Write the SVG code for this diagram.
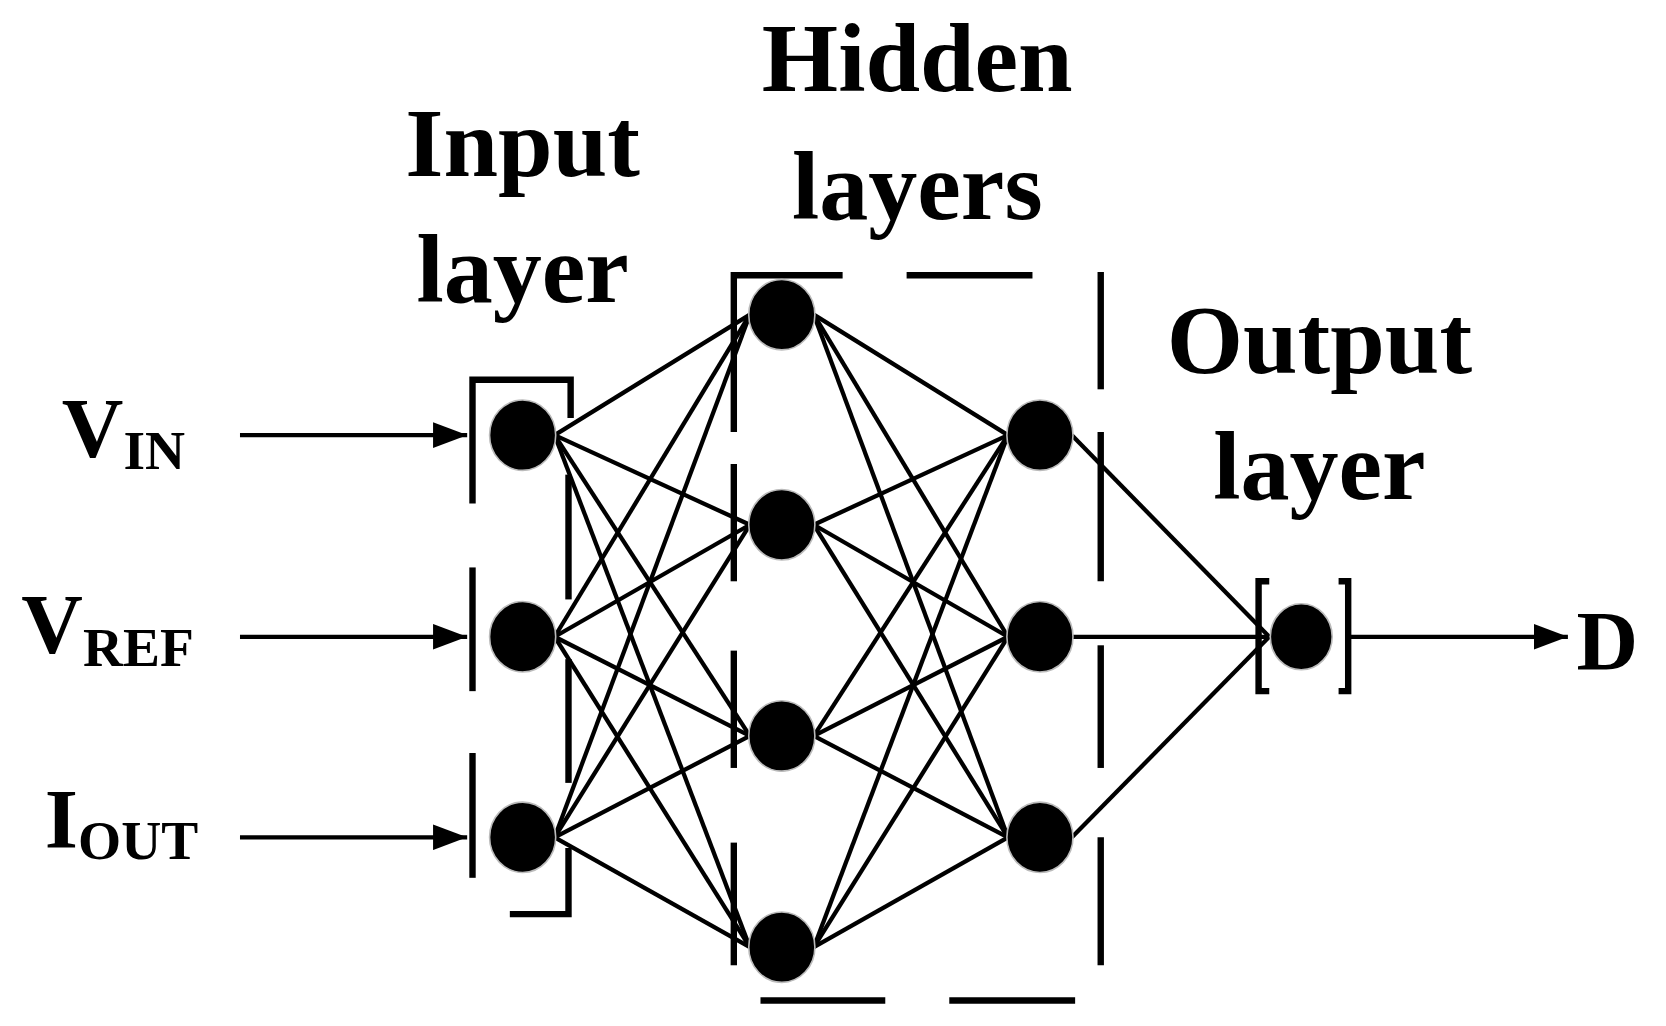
<svg xmlns="http://www.w3.org/2000/svg" width="1666" height="1026" viewBox="0 0 1666 1026">
<style>
.t{font-family:"Liberation Serif",serif;font-weight:bold;fill:#000}
.big{font-size:92px}
.lab{font-size:80px}
.sub{font-size:52px}
.c line{stroke:#000;stroke-width:4}
.b{stroke:#000;stroke-width:6;fill:none}
.n{fill:#000;stroke:#bbb;stroke-width:1.5}
</style>
<defs><marker id="ar" markerWidth="8" markerHeight="6" refX="8" refY="3" orient="auto" markerUnits="strokeWidth"><path d="M0,0L8,3L0,6z" fill="#000"/></marker></defs>
<rect width="1666" height="1026" fill="#fff"/>
<g transform="scale(1.0666)">
<g id="titles" class="t big" text-anchor="middle">
<text x="490" y="165">Input</text><text x="490" y="283">layer</text>
<text x="860" y="85">Hidden</text><text x="860" y="205">layers</text>
<text x="1237" y="350">Output</text><text x="1237" y="468">layer</text>
</g>
<g id="labels" class="t">
<text x="58" y="428" class="lab">V<tspan class="sub" dy="12">IN</tspan></text>
<text x="20" y="612" class="lab">V<tspan class="sub" dy="12">REF</tspan></text>
<text x="42" y="795" class="lab">I<tspan class="sub" dy="10">OUT</tspan></text>
<text x="1478" y="628" class="lab">D</text>
</g>
<g id="brackets" class="b">
<path d="M443,472V356H535V392"/><path d="M443,532V648"/><path d="M443,706V823"/>
<path d="M533,445V562"/><path d="M533,618V734"/><path d="M533,795V857H478"/>
<path d="M688,405V258H790"/><path d="M850,258H968"/>
<path d="M688,435V545"/><path d="M688,610V720"/><path d="M688,790V905"/>
<path d="M1032,255V365"/><path d="M1032,405V545"/><path d="M1032,605V720"/><path d="M1032,785V905"/>
<path d="M713,938H830"/><path d="M890,938H1008"/>
<path d="M1190,545H1180V648H1190"/><path d="M1255,545H1264V648H1255"/>
</g>
<g id="connectors" class="c">
<line x1="520" y1="408" x2="703" y2="295"/><line x1="520" y1="408" x2="703" y2="492"/><line x1="520" y1="408" x2="703" y2="690"/><line x1="520" y1="408" x2="703" y2="888"/>
<line x1="520" y1="597" x2="703" y2="295"/><line x1="520" y1="597" x2="703" y2="492"/><line x1="520" y1="597" x2="703" y2="690"/><line x1="520" y1="597" x2="703" y2="888"/>
<line x1="520" y1="785" x2="703" y2="295"/><line x1="520" y1="785" x2="703" y2="492"/><line x1="520" y1="785" x2="703" y2="690"/><line x1="520" y1="785" x2="703" y2="888"/>
<line x1="763" y1="295" x2="945" y2="408"/><line x1="763" y1="295" x2="945" y2="597"/><line x1="763" y1="295" x2="945" y2="785"/>
<line x1="763" y1="492" x2="945" y2="408"/><line x1="763" y1="492" x2="945" y2="597"/><line x1="763" y1="492" x2="945" y2="785"/>
<line x1="763" y1="690" x2="945" y2="408"/><line x1="763" y1="690" x2="945" y2="597"/><line x1="763" y1="690" x2="945" y2="785"/>
<line x1="763" y1="888" x2="945" y2="408"/><line x1="763" y1="888" x2="945" y2="597"/><line x1="763" y1="888" x2="945" y2="785"/>
<line x1="1005" y1="408" x2="1190" y2="597"/><line x1="1005" y1="597" x2="1190" y2="597"/><line x1="1005" y1="785" x2="1190" y2="597"/>
<line x1="225" y1="408" x2="438" y2="408" stroke-width="5" marker-end="url(#ar)"/>
<line x1="225" y1="597" x2="438" y2="597" stroke-width="5" marker-end="url(#ar)"/>
<line x1="225" y1="785" x2="438" y2="785" stroke-width="5" marker-end="url(#ar)"/>
<line x1="1265" y1="597" x2="1470" y2="597" stroke-width="5" marker-end="url(#ar)"/>
</g>
<g id="in1"><ellipse class="n" cx="490" cy="408" rx="31" ry="33"/></g>
<g id="in2"><ellipse class="n" cx="490" cy="597" rx="31" ry="33"/></g>
<g id="in3"><ellipse class="n" cx="490" cy="785" rx="31" ry="33"/></g>
<g id="h1"><ellipse class="n" cx="733" cy="295" rx="31" ry="33"/></g>
<g id="h2"><ellipse class="n" cx="733" cy="492" rx="31" ry="33"/></g>
<g id="h3"><ellipse class="n" cx="733" cy="690" rx="31" ry="33"/></g>
<g id="h4"><ellipse class="n" cx="733" cy="888" rx="31" ry="33"/></g>
<g id="g1"><ellipse class="n" cx="975" cy="408" rx="31" ry="33"/></g>
<g id="g2"><ellipse class="n" cx="975" cy="597" rx="31" ry="33"/></g>
<g id="g3"><ellipse class="n" cx="975" cy="785" rx="31" ry="33"/></g>
<g id="out"><ellipse class="n" cx="1220" cy="597" rx="29" ry="31"/></g>
</g>
</svg>
